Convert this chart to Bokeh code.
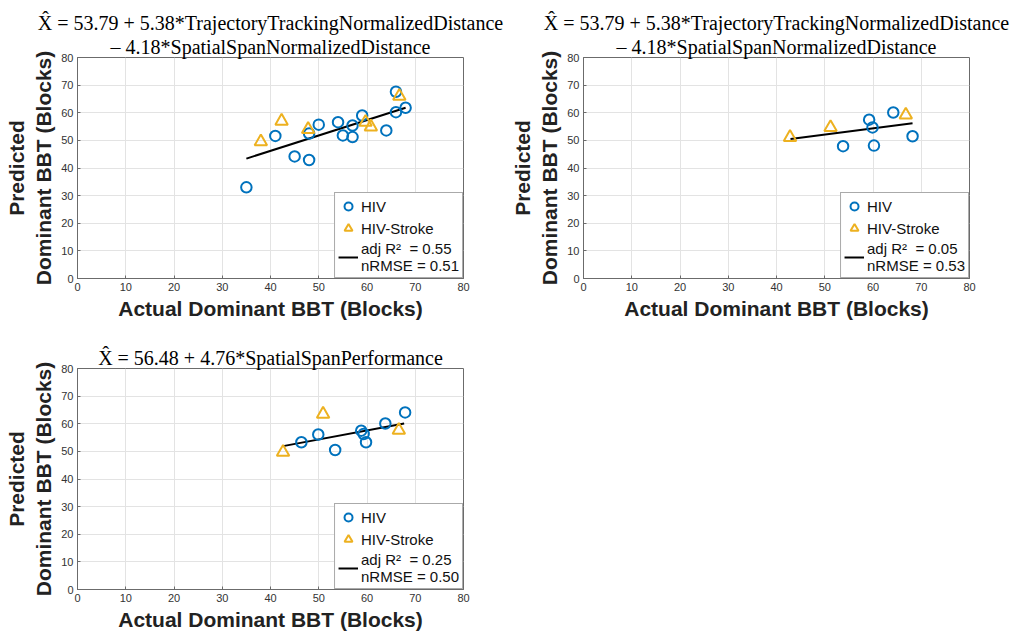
from bokeh.plotting import figure
from bokeh.layouts import column, row
from bokeh.models import Range1d, FixedTicker, Legend, LegendItem, Title
from bokeh.embed import file_html
from bokeh.resources import INLINE

# ---------------- data ----------------
ticks = [0, 10, 20, 30, 40, 50, 60, 70, 80]

p1_hiv_x = [35, 41, 45, 48, 48, 50, 54, 55, 57, 57, 59, 64, 66, 66, 68]
p1_hiv_y = [33.0, 51.6, 44.2, 42.9, 52.5, 55.7, 56.6, 51.8, 55.4, 51.2, 59.0, 53.6, 67.6, 60.2, 61.8]
p1_hs_x = [38.0, 42.3, 47.8, 59.7, 60.8, 66.7]
p1_hs_y = [49.5, 57.0, 54.0, 56.6, 54.9, 66.0]
p1_fit_x = [35, 68]
p1_fit_y = [43.4, 61.8]
p1_title = ["X\u0302 = 53.79 + 5.38*TrajectoryTrackingNormalizedDistance",
            "\u2013 4.18*SpatialSpanNormalizedDistance"]
p1_stats = "adj R\u00b2  = 0.55\nnRMSE = 0.51"

p2_hiv_x = [53.8, 59.2, 59.9, 60.2, 64.2, 68.2]
p2_hiv_y = [47.9, 57.5, 54.7, 48.1, 60.1, 51.5]
p2_hs_x = [42.8, 51.2, 66.8]
p2_hs_y = [51.1, 54.7, 59.2]
p2_fit_x = [42.9, 68.2]
p2_fit_y = [50.5, 56.2]
p2_title = ["X\u0302 = 53.79 + 5.38*TrajectoryTrackingNormalizedDistance",
            "\u2013 4.18*SpatialSpanNormalizedDistance"]
p2_stats = "adj R\u00b2  = 0.05\nnRMSE = 0.53"

p3_hiv_x = [46.4, 49.9, 53.4, 58.8, 59.3, 59.8, 63.8, 67.9]
p3_hiv_y = [53.3, 56.1, 50.5, 57.5, 56.3, 53.3, 60.1, 64.1]
p3_hs_x = [42.6, 50.9, 66.6]
p3_hs_y = [49.7, 63.5, 57.7]
p3_fit_x = [42.6, 67.7]
p3_fit_y = [51.9, 60.1]
p3_title = ["X\u0302 = 56.48 + 4.76*SpatialSpanPerformance"]
p3_stats = "adj R\u00b2  = 0.25\nnRMSE = 0.50"

series_names = ["HIV", "HIV-Stroke"]
x_label = "Actual Dominant BBT (Blocks)"
y_label = "Predicted\nDominant BBT (Blocks)"

BLUE = "#0072BD"
ORANGE = "#EDB120"
FRAME = "#6b6b6b"
SANS = "Liberation Sans"
SERIF = "Liberation Serif"


def style_title(t):
    t.align = "center"
    t.text_font = SERIF
    t.text_font_size = "20px"
    t.text_font_style = "normal"
    t.text_color = "#000000"
    t.standoff = 0
    t.offset = 0


def make_panel(hx, hy, sx, sy, fx, fy, title_lines, stats, left, right, top, bottom):
    p = figure(frame_width=386, frame_height=221, output_backend="svg",
               toolbar_location=None, x_range=Range1d(0, 80), y_range=Range1d(0, 80),
               min_border_left=left, min_border_right=right,
               min_border_top=top, min_border_bottom=bottom)
    # the figure's own title is the outermost line; later lines sit nearer the frame
    p.title.text = title_lines[0]
    style_title(p.title)
    for line in title_lines[1:]:
        t = Title(text=line)
        style_title(t)
        p.add_layout(t, "above")

    p.background_fill_color = "white"
    p.border_fill_color = "white"
    p.outline_line_color = FRAME
    p.outline_line_width = 1

    for ax in (p.xaxis[0], p.yaxis[0]):
        ax.ticker = FixedTicker(ticks=ticks)
        ax.axis_line_color = FRAME
        ax.major_tick_line_color = FRAME
        ax.major_tick_in = 3
        ax.major_tick_out = 0
        ax.minor_tick_line_color = None
        ax.major_label_text_font = SANS
        ax.major_label_text_font_size = "11px"
        ax.major_label_text_color = "#333333"
        ax.axis_label_text_font = SANS
        ax.axis_label_text_font_size = "21px"
        ax.axis_label_text_font_style = "bold"
        ax.axis_label_text_color = "#222222"
    p.xaxis.axis_label = x_label
    p.yaxis.axis_label = y_label
    p.xaxis.major_label_standoff = 4
    p.yaxis.major_label_standoff = 4
    p.xaxis.axis_label_standoff = 3
    p.yaxis.axis_label_standoff = 3

    p.grid.grid_line_color = "#e3e3e3"
    p.grid.grid_line_width = 1

    r_fit = p.line(fx, fy, line_color="black", line_width=2)
    r_h = p.scatter(hx, hy, marker="circle", size=10.5, fill_color=None,
                    line_color=BLUE, line_width=2)
    r_s = p.scatter(sx, sy, marker="triangle", size=12.5, fill_color=None,
                    line_color=ORANGE, line_width=2)

    legend = Legend(items=[LegendItem(label=series_names[0], renderers=[r_h]),
                           LegendItem(label=series_names[1], renderers=[r_s]),
                           LegendItem(label=stats, renderers=[r_fit])],
                    location="bottom_right", margin=0, padding=3, spacing=2,
                    glyph_width=20, glyph_height=20, label_standoff=3,
                    label_text_font=SANS, label_text_font_size="15px",
                    label_text_color="#111111", label_text_line_height=1.2,
                    border_line_color="#555555", border_line_width=1,
                    background_fill_color="white", background_fill_alpha=1.0)
    p.add_layout(legend, "center")
    return p


p1 = make_panel(p1_hiv_x, p1_hiv_y, p1_hs_x, p1_hs_y, p1_fit_x, p1_fit_y,
                p1_title, p1_stats, left=77, right=42, top=57, bottom=52)
p2 = make_panel(p2_hiv_x, p2_hiv_y, p2_hs_x, p2_hs_y, p2_fit_x, p2_fit_y,
                p2_title, p2_stats, left=78, right=52, top=57, bottom=52)
p3 = make_panel(p3_hiv_x, p3_hiv_y, p3_hs_x, p3_hs_y, p3_fit_x, p3_fit_y,
                p3_title, p3_stats, left=77, right=42, top=38, bottom=45)

layout = column(row(p1, p2, spacing=0), p3, spacing=0)
open("out.html", "w").write(file_html(layout, INLINE))
